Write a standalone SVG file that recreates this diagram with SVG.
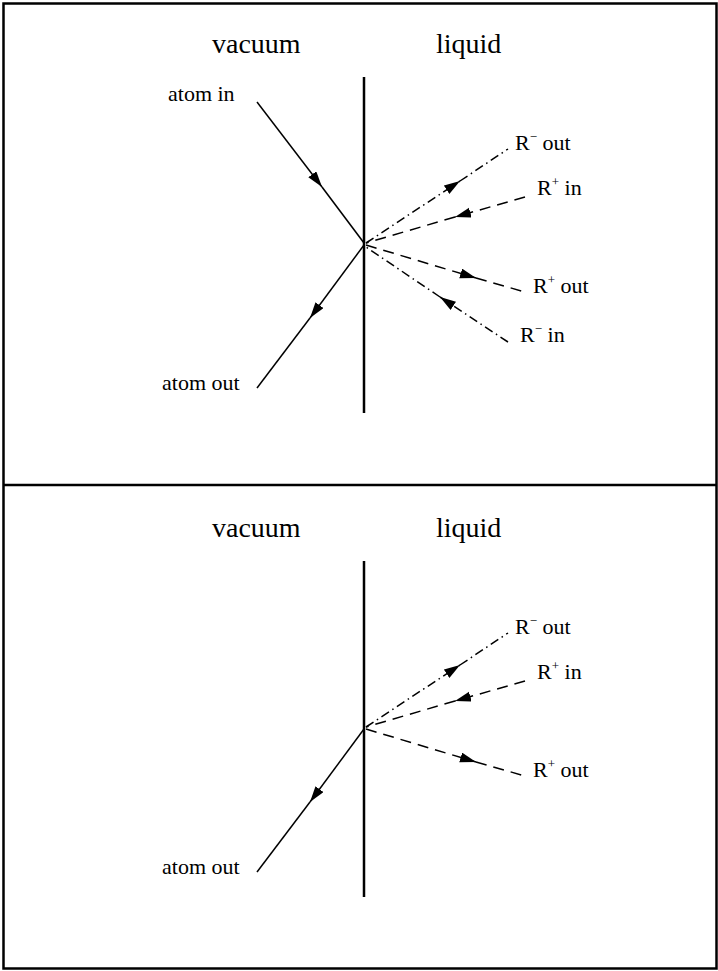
<svg xmlns="http://www.w3.org/2000/svg" width="718" height="971" viewBox="0 0 718 971">
<style>
text{font-family:"Liberation Serif","DejaVu Serif",serif;fill:#000}
.big{font-size:28px}
.lbl{font-size:22px}
.sup{font-size:13px}
.frame{fill:none;stroke:#000;stroke-width:2.5}
.wall{stroke:#000;stroke-width:2.5}
.ln{stroke:#000;stroke-width:1.5;fill:none}
.dash{stroke:#000;stroke-width:1.5;fill:none;stroke-dasharray:11 7}
.dd{stroke:#000;stroke-width:1.5;fill:none;stroke-dasharray:9 4 1.5 4}
</style>
<defs>
<marker id="ah" markerUnits="userSpaceOnUse" markerWidth="18" markerHeight="11" refX="16" refY="5" orient="auto">
<path d="M0,0 L16,5 L0,10 Z" fill="#000"/>
</marker>
</defs>
<g id="frame">
<rect class="frame" x="3.5" y="3.5" width="713" height="965"/>
<line class="frame" x1="3" y1="485" x2="717" y2="485"/>
</g>

<g id="top-panel">
<g id="top-vacuum"><text class="big" x="212" y="53">vacuum</text></g>
<g id="top-liquid"><text class="big" x="436" y="53">liquid</text></g>
<g id="top-wall"><line class="wall" x1="364" y1="77" x2="364" y2="413"/></g>
<g id="top-atom-in"><text class="lbl" x="168" y="101">atom in</text></g>
<g id="top-atom-out"><text class="lbl" x="162" y="390">atom out</text></g>
<g id="top-Rm-out"><text class="lbl" x="515" y="150">R<tspan class="sup" dy="-9">−</tspan><tspan dy="9"> out</tspan></text></g>
<g id="top-Rp-in"><text class="lbl" x="537" y="195">R<tspan class="sup" dy="-9">+</tspan><tspan dy="9"> in</tspan></text></g>
<g id="top-Rp-out"><text class="lbl" x="533" y="293">R<tspan class="sup" dy="-9">+</tspan><tspan dy="9"> out</tspan></text></g>
<g id="top-Rm-in"><text class="lbl" x="520" y="342">R<tspan class="sup" dy="-9">−</tspan><tspan dy="9"> in</tspan></text></g>
<g id="top-connectors">
<path class="ln" d="M257,102 L322,187" marker-end="url(#ah)"/>
<path class="ln" d="M322,187 L364,243"/>
<path class="ln" d="M364,245 L310,318" marker-end="url(#ah)"/>
<path class="ln" d="M310,318 L257,388"/>
<path class="dd" d="M366,243 L460,181" marker-end="url(#ah)"/>
<path class="dd" d="M460,181 L508,149"/>
<path class="dash" d="M525,197 L455,217" marker-end="url(#ah)"/>
<path class="dash" d="M455,217 L366,243"/>
<path class="dash" d="M366,245 L476,278" marker-end="url(#ah)"/>
<path class="dash" d="M476,278 L525,292"/>
<path class="dd" d="M508,342 L440,297" marker-end="url(#ah)"/>
<path class="dd" d="M440,297 L366,247"/>
</g>
</g>

<g id="bottom-panel">
<g id="bot-vacuum"><text class="big" x="212" y="537">vacuum</text></g>
<g id="bot-liquid"><text class="big" x="436" y="537">liquid</text></g>
<g id="bot-wall"><line class="wall" x1="364" y1="561" x2="364" y2="897"/></g>
<g id="bot-atom-out"><text class="lbl" x="162" y="874">atom out</text></g>
<g id="bot-Rm-out"><text class="lbl" x="515" y="634">R<tspan class="sup" dy="-9">−</tspan><tspan dy="9"> out</tspan></text></g>
<g id="bot-Rp-in"><text class="lbl" x="537" y="679">R<tspan class="sup" dy="-9">+</tspan><tspan dy="9"> in</tspan></text></g>
<g id="bot-Rp-out"><text class="lbl" x="533" y="777">R<tspan class="sup" dy="-9">+</tspan><tspan dy="9"> out</tspan></text></g>
<g id="bot-connectors">
<path class="ln" d="M364,729 L310,802" marker-end="url(#ah)"/>
<path class="ln" d="M310,802 L257,872"/>
<path class="dd" d="M366,727 L460,665" marker-end="url(#ah)"/>
<path class="dd" d="M460,665 L508,633"/>
<path class="dash" d="M525,681 L455,701" marker-end="url(#ah)"/>
<path class="dash" d="M455,701 L366,727"/>
<path class="dash" d="M366,729 L476,762" marker-end="url(#ah)"/>
<path class="dash" d="M476,762 L525,776"/>
</g>
</g>
</svg>
